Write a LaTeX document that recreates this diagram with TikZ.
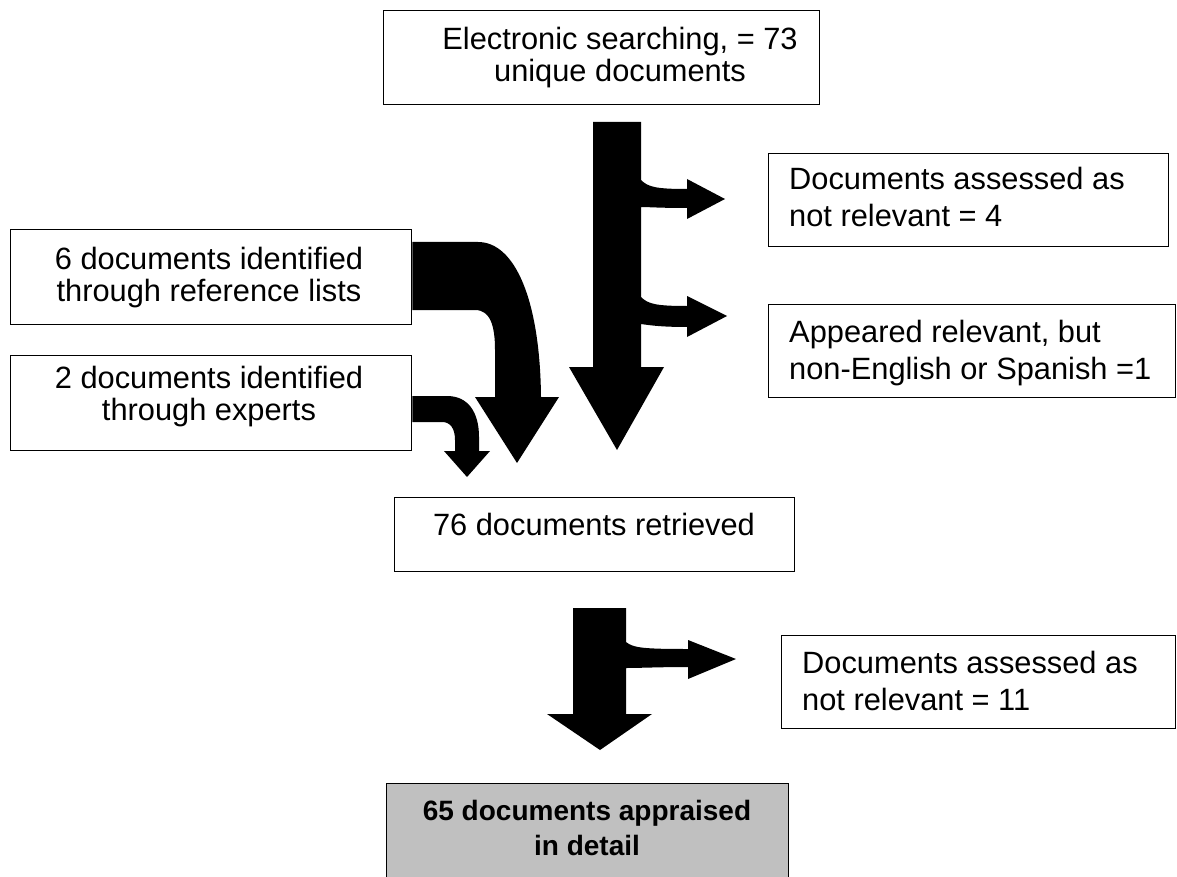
\documentclass[tikz,border=0pt]{standalone}
\usepackage{fontspec}
\setmainfont{Liberation Sans}
\begin{document}
\begin{tikzpicture}[x=1pt,y=-1pt,
  box/.style={draw=black, line width=1.4pt, fill=white, inner sep=0pt, anchor=north west},
  txt/.style={font=\fontsize{30.8}{32}\selectfont, inner sep=0pt},
  txtwide/.style={font=\fontsize{30.8}{37}\selectfont, inner sep=0pt, align=left, anchor=west},
  boldtxt/.style={font=\fontsize{28}{35}\selectfont\bfseries, inner sep=0pt, align=center},
  blk/.style={fill=black, draw=none}]
\useasboundingbox (0,0) rectangle (1177,877);

% boxes
\node[box, minimum width=436pt, minimum height=94pt] (search) at (383,10) {};
\node[box, minimum width=400pt, minimum height=93pt] (irrA) at (768,153) {};
\node[box, minimum width=407pt, minimum height=93pt] (lang) at (768,304) {};
\node[box, minimum width=401pt, minimum height=95pt] (refl) at (10,229) {};
\node[box, minimum width=401pt, minimum height=95pt] (expert) at (10,355) {};
\node[box, minimum width=400pt, minimum height=74pt] (retr) at (394,497) {};
\node[box, minimum width=394pt, minimum height=93pt] (irrB) at (781,635) {};
\node[box, minimum width=402pt, minimum height=96pt,
      fill={rgb,255:red,192;green,192;blue,192}] (final) at (386,783) {};

% texts
\node[txt, align=center] (search-t) at (620,58) {Electronic searching, = 73\\unique documents};
\node[txtwide] (irrA-t) at (789,197) {Documents assessed as\\not relevant = 4};
\node[txtwide] (lang-t) at (789,353) {Appeared relevant, but\\non-English or Spanish =1};
\node[txt, align=center] (refl-t) at (209,278) {6 documents identified\\through reference lists};
\node[txt, align=center] (expert-t) at (209,397) {2 documents identified\\through experts};
\node[txt, anchor=base] (retr-t) at (594,535) {76 documents retrieved};
\node[txtwide] (irrB-t) at (802,681) {Documents assessed as\\not relevant = 11};
\node[boldtxt] (final-t) at (587,828) {65 documents appraised\\in detail};

% main block arrow from the search with two side branches
\fill[blk] (593,122) -- (641,122) -- (641,180)
  .. controls (648,187) and (656,189) .. (687,189) -- (687,179) -- (725,199) -- (687,219) -- (687,208)
  .. controls (660,208) and (648,207) .. (641,207) -- (641,297)
  .. controls (648,304) and (656,306) .. (687,306) -- (687,296) -- (727,316) -- (687,337) -- (687,327)
  .. controls (660,327) and (648,325) .. (641,324) -- (641,367) -- (664,367) -- (617,450) -- (569,367)
  -- (593,367) -- cycle;

% curved arrow from the reference lists
\fill[blk] (refl.east |- 0,242) -- (478,242) .. controls (515,242) and (540,300) .. (541,397)
  -- (559,397) -- (517,463) -- (475,397) -- (495,397) -- (495,350)
  .. controls (495,325) and (490,310) .. (475,310) -- (refl.east |- 0,310) -- cycle;

% small curved arrow from the experts
\fill[blk] (expert.east |- 0,396) -- (447,396) .. controls (468,396) and (479,412) .. (479,437)
  -- (479,451) -- (490,451) -- (467,477) -- (444,451) -- (455,451) -- (455,440)
  .. controls (455,428) and (450,422) .. (442,422) -- (expert.east |- 0,422) -- cycle;

% lower block arrow with one side branch
\fill[blk] (573,608) -- (626,608) -- (626,642)
  .. controls (633,648) and (645,649) .. (688,649) -- (688,640) -- (736,659) -- (688,679) -- (688,667)
  .. controls (660,667) and (640,668) .. (626,668) -- (626,714) -- (652,714) -- (600,750) -- (547,714)
  -- (573,714) -- cycle;
\end{tikzpicture}
\end{document}
